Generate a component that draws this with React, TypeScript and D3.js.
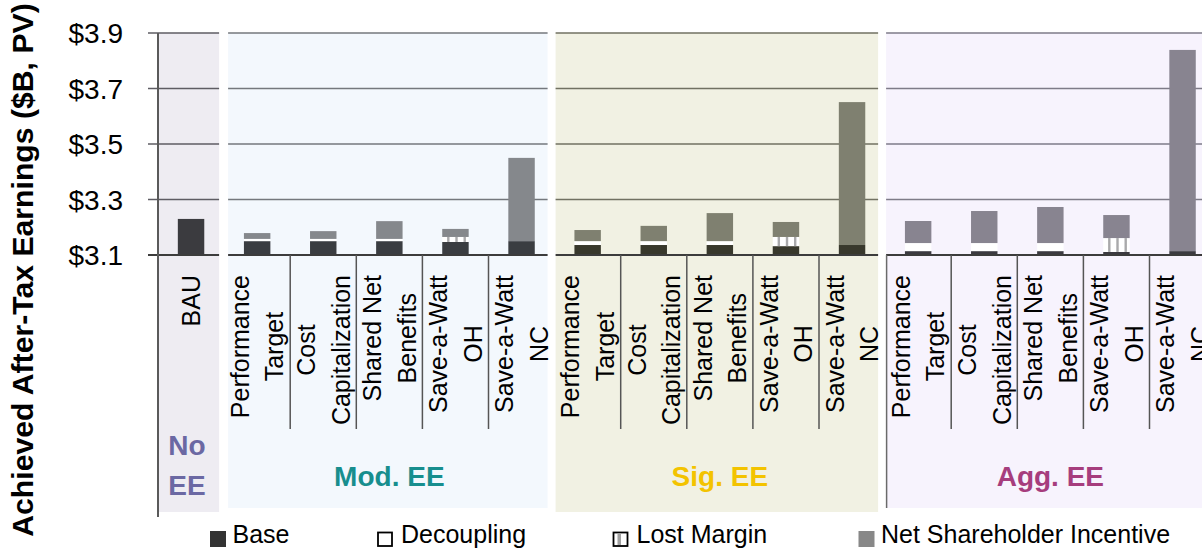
import React, { useEffect, useRef } from "react";
import * as d3 from "d3";

// categories: BAU then 5 mechanisms per EE scenario
const groups = ["No EE", "Mod. EE", "Sig. EE", "Agg. EE"];
const mechanisms = ["Performance|Target", "Cost|Capitalization", "Shared Net|Benefits", "Save-a-Watt|OH", "Save-a-Watt|NC"];
const categoryLabels = ["BAU", ...mechanisms, ...mechanisms, ...mechanisms];
const categoryGroup = [0, 1, 1, 1, 1, 1, 2, 2, 2, 2, 2, 3, 3, 3, 3, 3];

// $B, PV  (base is absolute, the rest are stacked increments)
const baseVals = [3.23, 3.15, 3.15, 3.15, 3.147, 3.15, 3.136, 3.136, 3.136, 3.132, 3.136, 3.114, 3.114, 3.114, 3.111, 3.114];
const decouplingVals = [0, 0.008, 0.008, 0.008, 0, 0, 0.014, 0.014, 0.014, 0, 0, 0.029, 0.029, 0.029, 0, 0];
const lostMarginVals = [0, 0, 0, 0, 0.018, 0, 0, 0, 0, 0.033, 0, 0, 0, 0, 0.05, 0];
const incentiveVals = [0, 0.021, 0.028, 0.064, 0.029, 0.3, 0.04, 0.055, 0.101, 0.054, 0.515, 0.0795, 0.1155, 0.13, 0.083, 0.725];

const yTicks = [3.1, 3.3, 3.5, 3.7, 3.9];
const legendItems = ["Base", "Decoupling", "Lost Margin", "Net Shareholder Incentive"];

const groupStyle = [
  { bg: "#eeecf2", grid: "#5e5c63", base: "#3b3b3f", nsi: "#87868c", label: "#6b68a3" },
  { bg: "#f3f8fd", grid: "#74787d", base: "#3a3d41", nsi: "#85888c", label: "#178e8e" },
  { bg: "#f1f1e3", grid: "#717162", base: "#38382c", nsi: "#7f8070", label: "#f3c300" },
  { bg: "#f7f3fd", grid: "#7e7b88", base: "#3b3a40", nsi: "#888490", label: "#a63d7d" },
];

const FONT = "'Liberation Sans', Arial, Helvetica, sans-serif";

export default function App() {
  const ref = useRef<SVGSVGElement>(null);

  useEffect(() => {
    const width = 1202;
    const height = 548;
    const svg = d3.select(ref.current).attr("width", width).attr("height", height);
    svg.selectAll("*").remove();

    const bandW = 66.1;
    const x = d3.scaleBand<string>()
      .domain(categoryLabels.map((_, i) => String(i)))
      .range([158, 158 + categoryLabels.length * bandW])
      .padding(0);
    const y = d3.scaleLinear().domain([3.1, 3.9]).range([255, 33]);
    const bw = x.bandwidth();
    const barW = bw * 0.4;
    const b = (i: number) => x(String(i)) as number;

    const panels = [
      { x0: 158, x1: b(1) - 5, bottom: 512 },
      { x0: b(1) + 4, x1: b(6) - 7, bottom: 508 },
      { x0: b(6) + 1, x1: b(11) - 7, bottom: 512 },
      { x0: b(11) + 1, x1: width, bottom: 508 },
    ];

    // panel backgrounds
    panels.forEach((p, g) => {
      svg.append("rect").attr("x", p.x0).attr("y", y(3.9)).attr("width", p.x1 - p.x0)
        .attr("height", p.bottom - y(3.9)).attr("fill", groupStyle[g].bg);
    });

    // gridlines (per panel tint)
    panels.forEach((p, g) => {
      svg.append("g").selectAll("line").data(yTicks.slice(1)).enter().append("line")
        .attr("x1", g === 0 ? 148 : p.x0).attr("x2", p.x1)
        .attr("y1", (d) => y(d)).attr("y2", (d) => y(d))
        .attr("stroke", groupStyle[g].grid).attr("stroke-width", 1.6);
    });

    // stacked bars
    const barG = svg.append("g");
    categoryLabels.forEach((_, i) => {
      const st = groupStyle[categoryGroup[i]];
      const cx = b(i) + bw / 2;
      const x0 = cx - barW / 2;
      const v0 = 3.1;
      const v1 = baseVals[i];
      const v2 = v1 + decouplingVals[i];
      const v3 = v2 + lostMarginVals[i];
      const v4 = v3 + incentiveVals[i];
      barG.append("rect").attr("x", x0).attr("width", barW).attr("y", y(v1)).attr("height", y(v0) - y(v1)).attr("fill", st.base);
      if (v2 > v1) barG.append("rect").attr("x", x0).attr("width", barW).attr("y", y(v2)).attr("height", y(v1) - y(v2)).attr("fill", "#ffffff");
      if (v3 > v2) {
        barG.append("rect").attr("x", x0).attr("width", barW).attr("y", y(v3)).attr("height", y(v2) - y(v3)).attr("fill", "#ffffff");
        [0.23, 0.54, 0.85].forEach((f) => {
          barG.append("rect").attr("x", x0 + f * barW - 1.2).attr("width", 2.4).attr("y", y(v3)).attr("height", y(v2) - y(v3)).attr("fill", "#a9a9ab");
        });
      }
      if (v4 > v3) barG.append("rect").attr("x", x0).attr("width", barW).attr("y", y(v4)).attr("height", y(v3) - y(v4)).attr("fill", st.nsi);
    });

    // x axis line
    panels.forEach((p, g) => {
      svg.append("line").attr("x1", g === 0 ? 148 : p.x0).attr("x2", p.x1).attr("y1", y(3.1)).attr("y2", y(3.1))
        .attr("stroke", "#3c3c3c").attr("stroke-width", 2);
    });

    // dividers between mechanisms
    const divs: number[] = [];
    [1, 6, 11].forEach((s) => { for (let j = 1; j < 5; j++) divs.push(b(s + j)); });
    svg.append("g").selectAll("line").data(divs).enter().append("line")
      .attr("x1", (d) => d).attr("x2", (d) => d).attr("y1", y(3.1)).attr("y2", 429)
      .attr("stroke", "#555").attr("stroke-width", 1.5);

    // y axis line + Agg panel edge
    svg.append("line").attr("x1", 158).attr("x2", 158).attr("y1", y(3.9)).attr("y2", 517).attr("stroke", "#5a5a5a").attr("stroke-width", 2);
    svg.append("line").attr("x1", panels[3].x0 + 0.5).attr("x2", panels[3].x0 + 0.5).attr("y1", y(3.1)).attr("y2", 508).attr("stroke", "#6a6a6a").attr("stroke-width", 1.5);

    // y tick labels
    svg.append("g").selectAll("text").data(yTicks).enter().append("text")
      .attr("x", 123).attr("y", (d) => y(d) + 10).attr("text-anchor", "end")
      .attr("font-family", FONT).attr("font-size", 28).attr("fill", "#000")
      .text((d) => "$" + d.toFixed(1));

    // y title
    svg.append("text").attr("transform", "translate(33,270) rotate(-90)")
      .attr("text-anchor", "middle").attr("font-family", FONT).attr("font-size", 30.2)
      .attr("font-weight", "bold").attr("fill", "#000")
      .text("Achieved After-Tax Earnings ($B, PV)");

    // category labels (rotated, lines centred within block that starts at top)
    const blockTop = 275;
    const lineGap = 34.5;
    categoryLabels.forEach((lab, i) => {
      const lines = lab.split("|");
      const cx = b(i) + bw / 2;
      const g = svg.append("g");
      const nodes = lines.map((t) => g.append("text").attr("font-family", FONT).attr("font-size", 25)
        .attr("fill", "#000").attr("text-anchor", "middle").text(t));
      const L = Math.max(...nodes.map((n) => (n.node() as SVGTextElement).getComputedTextLength()));
      const cy = blockTop + L / 2;
      nodes.forEach((n, k) => {
        const capC = cx + (k - (lines.length - 1) / 2) * lineGap;
        n.attr("transform", `translate(${capC + 9},${cy}) rotate(-90)`);
      });
    });

    // group labels
    const gl = svg.append("g").attr("font-family", FONT).attr("font-weight", "bold").attr("font-size", 28).attr("text-anchor", "middle");
    gl.append("text").attr("x", 187).attr("y", 455).attr("fill", groupStyle[0].label).text("No");
    gl.append("text").attr("x", 187).attr("y", 495).attr("fill", groupStyle[0].label).text("EE");
    [1, 2, 3].forEach((g) => {
      const s = 1 + (g - 1) * 5;
      const cx = (b(s) + b(s + 4) + bw) / 2;
      gl.append("text").attr("x", cx).attr("y", 486).attr("fill", groupStyle[g].label).text(groups[g]);
    });

    // legend
    const leg = svg.append("g");
    const legX = [210, 378, 613.5, 858.5];
    const legTextX = [232.5, 401, 636.5, 881];
    leg.append("rect").attr("x", legX[0]).attr("y", 531).attr("width", 16).attr("height", 16).attr("fill", "#333");
    leg.append("rect").attr("x", legX[1]).attr("y", 532.5).attr("width", 14).attr("height", 13.5).attr("fill", "#fff").attr("stroke", "#000").attr("stroke-width", 1.8);
    leg.append("rect").attr("x", legX[2]).attr("y", 532.5).attr("width", 14).attr("height", 13.5).attr("fill", "#fff").attr("stroke", "#000").attr("stroke-width", 1.8);
    leg.append("rect").attr("x", legX[2] + 4).attr("y", 533.5).attr("width", 3.5).attr("height", 11.5).attr("fill", "#a0a0a0");
    leg.append("rect").attr("x", legX[3]).attr("y", 531).attr("width", 16).attr("height", 16).attr("fill", "#888");
    leg.selectAll("text.l").data(legendItems).enter().append("text")
      .attr("x", (_, i) => legTextX[i]).attr("y", 543)
      .attr("font-family", FONT).attr("font-size", 25).attr("fill", "#000")
      .text((d) => d);
  }, []);

  return (
    <svg ref={ref} style={{ position: "fixed", top: 0, left: 0, display: "block", background: "#fff" }}></svg>
  );
}
